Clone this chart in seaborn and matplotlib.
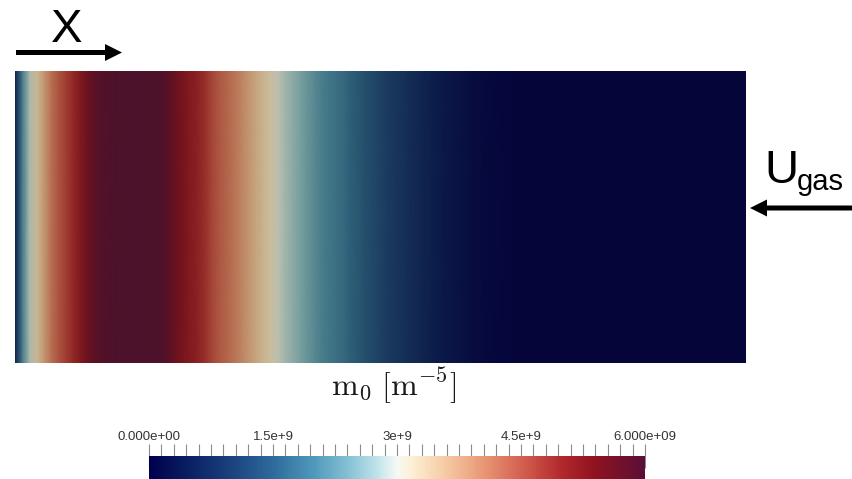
import numpy as np
import pandas as pd
import matplotlib
matplotlib.use("Agg")
import matplotlib.pyplot as plt
import seaborn as sns
from matplotlib.colors import LinearSegmentedColormap, Normalize, to_rgb
from matplotlib.cm import ScalarMappable
from matplotlib.patches import FancyArrow
from matplotlib.ticker import MultipleLocator

# ---------------- data ----------------
# position along X (fraction of domain length), sampled uniformly
x_frac = [round(0.01 * i, 2) for i in range(101)]
# m0 values in units of 1e9 m^-5
m0_e9 = [0.5, 2.0, 2.85, 3.25, 3.7, 4.15, 4.45, 4.7, 4.95, 5.25,
         5.55, 5.8, 5.9, 5.95, 6.0, 6.0, 6.0, 6.0, 6.0, 5.98,
         5.95, 5.8, 5.55, 5.35, 5.2, 5.05, 4.85, 4.6, 4.4, 4.25,
         4.1, 3.9, 3.7, 3.5, 3.3, 3.15, 2.95, 2.8, 2.65, 2.5,
         2.35, 2.2, 2.05, 1.95, 1.85, 1.75, 1.6, 1.5, 1.35, 1.25,
         1.15, 1.05, 0.95, 0.88, 0.78, 0.7, 0.6, 0.53, 0.45, 0.38,
         0.32, 0.27, 0.2, 0.15, 0.11, 0.08, 0.05, 0.03, 0.02, 0.01,
         0, 0, 0, 0, 0, 0, 0, 0, 0, 0,
         0, 0, 0, 0, 0, 0, 0, 0, 0, 0,
         0, 0, 0, 0, 0, 0, 0, 0, 0, 0, 0]
vmin, vmax = 0.0, 6.0e9
cbar_ticks = [0.0, 1.5e9, 3.0e9, 4.5e9, 6.0e9]
cbar_ticklabels = ["0.000e+00", "1.5e+9", "3e+9", "4.5e+9", "6.000e+09"]
title_text = r"$\mathrm{m_0\ [m^{-5}]}$"

# ---------------- colormap ----------------
cmap_nodes = [
    (0.00, "#00004c"), (0.08, "#0a1f63"), (0.17, "#1b447f"), (0.25, "#2e6b9c"),
    (0.33, "#4e97bb"), (0.41, "#8cc6d8"), (0.47, "#cbe9ee"), (0.50, "#f5f9f4"),
    (0.53, "#fdf0d4"), (0.60, "#f5c9a2"), (0.67, "#ea9a78"), (0.75, "#d46150"),
    (0.83, "#b22a2c"), (0.90, "#8f1220"), (1.00, "#5b0f36"),
]
base_cmap = LinearSegmentedColormap.from_list("m0_div", cmap_nodes, N=512)
# same map with the scene lighting of the render view applied
tint = np.array([0.78, 0.76, 0.70])
shaded_nodes = [(p, tuple(np.clip(np.array(to_rgb(c)) * tint + 0.02, 0, 1)))
                for p, c in cmap_nodes]
shaded_cmap = LinearSegmentedColormap.from_list("m0_div_lit", shaded_nodes, N=512)

# ---------------- figure ----------------
sns.set_style("white")
plt.rcParams["font.family"] = ["Liberation Sans", "DejaVu Sans"]

W, H = 853, 479
fig = plt.figure(figsize=(W / 100, H / 100), dpi=100)

ax = fig.add_axes([15 / W, 1 - 363 / H, 731 / W, 292 / H])
values = np.array(m0_e9) * 1e9
data = pd.DataFrame([values, values], columns=x_frac)
sns.heatmap(data, ax=ax, cmap=shaded_cmap, vmin=vmin, vmax=vmax, cbar=False,
            xticklabels=False, yticklabels=False, shading="gouraud")
ax.set_xlim(0, len(x_frac) - 1)
ax.set_ylim(0, 1)
ax.set_xlabel("")
ax.set_ylabel("")

# colour bar
cax = fig.add_axes([149 / W, 0, 496 / W, 23 / H])
sm = ScalarMappable(norm=Normalize(vmin, vmax), cmap=base_cmap)
cb = fig.colorbar(sm, cax=cax, orientation="horizontal", ticklocation="top")
cb.outline.set_visible(False)
cb.set_ticks(cbar_ticks)
cb.set_ticklabels(cbar_ticklabels)
cax.xaxis.set_minor_locator(MultipleLocator(0.15e9))
cax.tick_params(which="major", direction="inout", length=17, width=0.8,
                color="#8c8c8c", pad=1, labelsize=9.5, labelcolor="#333333")
cax.tick_params(which="minor", direction="out", length=9, width=0.8,
                color="#8c8c8c")

# title under the field
fig.text(394 / W, 1 - 386 / H, title_text, fontsize=23, ha="center",
         va="center", math_fontfamily="cm", color="#1a1a1a")

# overlay in pixel units for the annotation arrows / labels
ov = fig.add_axes([0, 0, 1, 1])
ov.set_xlim(0, W)
ov.set_ylim(H, 0)
ov.axis("off")
ov.patch.set_alpha(0)
ov.add_patch(FancyArrow(16, 52.5, 106, 0, width=5, head_width=17, head_length=17,
                        length_includes_head=True, color="black", lw=0))
ov.add_patch(FancyArrow(853, 208, -103, 0, width=5, head_width=17, head_length=17,
                        length_includes_head=True, color="black", lw=0))
ov.text(51, 42, "X", fontsize=34, va="baseline", ha="left", color="black")
ov.text(764, 183, "U", fontsize=34, va="baseline", ha="left", color="black")
ov.text(797, 190, "gas", fontsize=21, va="baseline", ha="left", color="black")

fig.savefig("out.png", dpi=100)
